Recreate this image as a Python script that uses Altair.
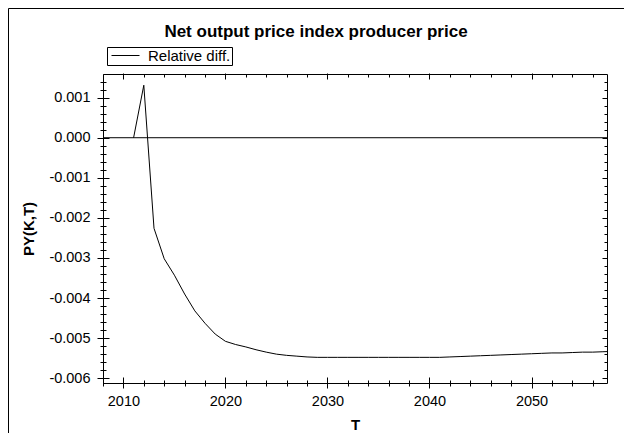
import altair as alt
import pandas as pd

# ---- data ----
years = list(range(2011, 2059))
rel_diff = [
    0.0, 0.00131, -0.00226, -0.00302, -0.00343, -0.00390, -0.00432, -0.00463,
    -0.00490, -0.00508, -0.00516, -0.00522, -0.00529, -0.00535, -0.00540, -0.00543,
    -0.00545, -0.00547, -0.00548, -0.00548, -0.00548, -0.00548, -0.00548, -0.00548,
    -0.00548, -0.00548, -0.00548, -0.00548, -0.00548, -0.00548, -0.00548, -0.00547,
    -0.00546, -0.00545, -0.00544, -0.00543, -0.00542, -0.00541, -0.00540, -0.00539,
    -0.00538, -0.00537, -0.00537, -0.00536, -0.00535, -0.00535, -0.00534, -0.00533,
]
series_name = "Relative diff."
chart_title = "Net output price index producer price"
x_title = "T"
y_title = "PY(K,T)"

x_major = [2010, 2020, 2030, 2040, 2050]
x_minor = [2008, 2012, 2014, 2016, 2018, 2022, 2024, 2026, 2028, 2032, 2034, 2036,
           2038, 2042, 2044, 2046, 2048, 2052, 2054, 2056]
y_major = [0.001, 0.0, -0.001, -0.002, -0.003, -0.004, -0.005, -0.006]
y_minor = [round(-0.006 + 0.0002 * i, 4) for i in range(38)]

x_domain = [2008, 2057.4]
y_domain = [-0.00612, 0.00159]

FONT = "Liberation Sans"

df = pd.DataFrame({"T": years, "PY": rel_diff, "series": [series_name] * len(years)})
zero_df = pd.DataFrame({"v": [0.0]})
dummy = pd.DataFrame({"a": [0]})

xs = alt.Scale(domain=x_domain, nice=False, zero=False)
ys = alt.Scale(domain=y_domain, nice=False, zero=False)

label_expr = "datum.value < 0 ? '-' + format(-datum.value, '.3f') : format(datum.value, '.3f')"

main_line = alt.Chart(df).mark_line(strokeWidth=1, clip=True).encode(
    x=alt.X("T:Q", scale=xs, axis=alt.Axis(
        orient="bottom", values=x_major, ticks=False, labelPadding=11, format="d",
        title=x_title, titlePadding=10)),
    y=alt.Y("PY:Q", scale=ys, axis=alt.Axis(
        orient="left", values=y_major, ticks=False, labelPadding=13,
        labelExpr=label_expr, title=y_title, titlePadding=12)),
    color=alt.Color("series:N", scale=alt.Scale(range=["black"]), legend=alt.Legend(
        title=None, orient="none", legendX=4, legendY=-27, strokeColor="black",
        fillColor="white", padding=1, symbolType="M-2.8,0H2.8", symbolSize=100,
        symbolOffset=10, symbolStrokeWidth=1, labelFont=FONT, labelFontSize=15,
        labelColor="black", labelOffset=15)),
)


def x_ticks(orient, values, offset, size):
    return alt.Chart(df).mark_rule(opacity=0).encode(
        x=alt.X("T:Q", scale=xs, axis=alt.Axis(
            orient=orient, values=values, offset=offset, tickSize=size,
            labels=False, title=None)))


def y_ticks(orient, values, offset, size):
    return alt.Chart(df).mark_rule(opacity=0).encode(
        y=alt.Y("PY:Q", scale=ys, axis=alt.Axis(
            orient=orient, values=values, offset=offset, tickSize=size,
            labels=False, title=None)))


zero_rule = alt.Chart(zero_df).mark_rule(color="black", strokeWidth=1).encode(
    y=alt.Y("v:Q", scale=ys, axis=None))

border_top = alt.Chart(dummy).mark_rule(color="black", strokeWidth=1).encode(
    x=alt.value(-94.5), x2=alt.value(530), y=alt.value(-65.5))
border_left = alt.Chart(dummy).mark_rule(color="black", strokeWidth=1).encode(
    x=alt.value(-94.5), y=alt.value(-65.5), y2=alt.value(420))

chart = alt.layer(
    zero_rule,
    main_line,
    x_ticks("bottom", x_major, -6, 11),
    x_ticks("bottom", x_minor, -3, 6),
    x_ticks("top", x_major, -5, 6),
    x_ticks("top", x_minor, -3, 3),
    y_ticks("left", y_major, -6, 12),
    y_ticks("left", y_minor, -3, 6),
    y_ticks("right", y_major, -5, 5),
    y_ticks("right", y_minor, -3, 3),
    border_top,
    border_left,
).resolve_axis(
    x="independent", y="independent"
).properties(
    width=504,
    height=309,
    padding={"left": 95, "top": 66, "right": 17, "bottom": 50},
    autosize=alt.AutoSizeParams(type="none"),
    title=alt.TitleParams(chart_title, font=FONT, fontSize=17, fontWeight="bold",
                          color="black", anchor="middle", dx=-39, offset=-46,
                          baseline="alphabetic"),
).configure_view(
    stroke="black", strokeWidth=1
).configure_axis(
    labelFont=FONT, labelFontSize=14.5, labelColor="black", tickColor="black",
    tickWidth=1, domain=False, grid=False, titleFont=FONT, titleFontSize=15,
    titleFontWeight="bold", titleColor="black"
)

chart.save("out.html", embed_options={"renderer": "svg", "actions": False})
